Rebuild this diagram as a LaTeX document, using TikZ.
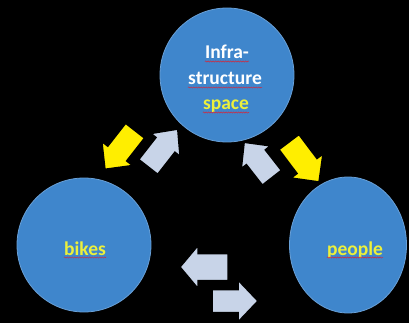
\documentclass[tikz,border=0pt]{standalone}
\usepackage{fontspec}
\setmainfont{Carlito}
\usetikzlibrary{decorations.pathmorphing,shapes.geometric}
\definecolor{bubbleblue}{RGB}{63,134,204}
\definecolor{bubbleedge}{RGB}{105,160,215}
\definecolor{arrowyellow}{RGB}{255,238,0}
\definecolor{arrowgrey}{RGB}{200,212,232}
\definecolor{textyellow}{RGB}{236,240,60}
\definecolor{spellred}{RGB}{210,40,60}
\newcommand\blockarr[7]{%
  \filldraw[fill=#7, draw=black, line width=1.5pt, line join=miter, shift={(#1)}, rotate=#2]
  ({-(#3)/2},{-(#5)/2}) -- ({(#3)/2-(#6)},{-(#5)/2}) -- ({(#3)/2-(#6)},{-(#4)/2}) --
  ({(#3)/2},0) -- ({(#3)/2-(#6)},{(#4)/2}) -- ({(#3)/2-(#6)},{(#5)/2}) --
  ({-(#3)/2},{(#5)/2}) -- cycle;}
\tikzset{
  bubble/.style={fill=bubbleblue, draw=bubbleedge, line width=0.8pt, inner sep=0pt},
  lbl/.style={font=\bfseries\fontsize{19.5}{22}\selectfont, anchor=base, inner sep=0pt},
  spell/.style={draw=spellred, line width=0.5pt, decorate,
    decoration={snake, amplitude=0.6pt, segment length=2.5pt}}
}
\begin{document}
\begin{tikzpicture}[x=1pt,y=-1pt]
  \fill[black] (0,0) rectangle (409,323);
  \useasboundingbox (0,0) rectangle (409,323);
  % circles
  \node[bubble, circle, minimum size=134pt] (infra) at (227,75) {};
  \node[bubble, circle, minimum size=134pt] (bikes) at (84,245) {};
  \node[bubble, ellipse, minimum width=117pt, minimum height=136pt] (people) at (348,245) {};
  % texts
  \node[lbl, text=white] (t1) at (227,59) {Infra-};
  \node[lbl, text=white] (t2) at (225,85) {structure};
  \node[lbl, text=textyellow] (t3) at (226,110) {space};
  \node[lbl, text=textyellow] (tb) at (85,255) {bikes};
  \node[lbl, text=textyellow] (tp) at (355,255) {people};
  \foreach \t in {t1,t2,t3,tb,tp}
    \draw[spell] ([yshift=-2.5pt]\t.base west) -- ([yshift=-2.5pt]\t.base east);
  % arrows
  \blockarr{120,150}{232}{49}{39}{24}{20}{arrowyellow}
  \blockarr{163,148}{52}{48}{37}{24}{20}{arrowgrey}
  \blockarr{304,162}{-53}{50}{40}{25}{20}{arrowyellow}
  \blockarr{258,160}{128}{45}{37}{24}{19}{arrowgrey}
  \blockarr{204,267}{180}{48}{43}{27}{18}{arrowgrey}
  \blockarr{235,301}{0}{46}{42}{23}{20}{arrowgrey}
\end{tikzpicture}
\end{document}
